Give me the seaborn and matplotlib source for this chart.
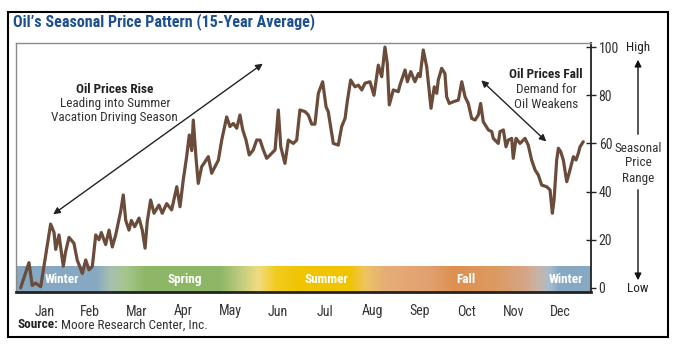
import numpy as np
import matplotlib
matplotlib.use("Agg")
import matplotlib.pyplot as plt
import seaborn as sns
import pandas as pd
from matplotlib import font_manager
from matplotlib.colors import LinearSegmentedColormap
from matplotlib.patches import Rectangle, FancyArrowPatch

# day of year and seasonal price index (0-100)
day = [0.1, 5.5, 7.6, 9.8, 13.1, 19.5, 21.7, 22.8, 24.9, 27.7, 29.2, 31.4, 34.6, 36.7,
       40.0, 42.2, 44.3, 46.5, 48.7, 50.8, 52.3, 55.1, 57.3, 59.4, 61.6, 64.8, 66.5,
       68.1, 70.2, 71.7, 73.9, 76.7, 78.8, 80.6, 82.0, 84.2, 86.4, 89.6, 91.7, 94.6,
       97.8, 101.1, 103.2, 105.3, 107.5, 109.2, 110.8, 111.8, 113.5, 115.0, 117.2,
       119.4, 121.5, 123.7, 125.8, 128.0, 130.2, 133.4, 135.5, 137.7, 139.9, 142.0,
       143.8, 145.9, 148.0, 150.6, 152.8, 155.0, 157.1, 159.3, 162.5, 164.7, 166.8,
       168.4, 171.1, 173.3, 176.5, 178.7, 180.8, 184.1, 186.2, 188.4, 190.5, 192.7,
       195.5, 197.7, 199.1, 202.4, 205.6, 207.8, 210.0, 211.4, 213.6, 216.4, 218.6,
       220.8, 222.9, 226.1, 228.7, 231.5, 233.7, 235.8, 237.3, 238.6, 241.2, 244.4,
       245.5, 248.8, 250.3, 252.5, 255.2, 257.4, 258.5, 260.6, 262.8, 264.9, 265.6,
       267.7, 269.3, 270.3, 272.5, 274.6, 275.7, 277.4, 280.0, 283.3, 285.5, 287.6,
       289.7, 291.9, 294.1, 296.2, 297.7, 299.4, 302.7, 304.9, 305.9, 309.1, 310.2,
       312.4, 314.1, 315.6, 317.8, 318.8, 320.6, 323.2, 326.4, 328.5, 330.7, 332.9,
       335.0, 337.2, 340.5, 342.6, 344.1, 345.2, 346.9, 348.0, 349.5, 351.2, 353.4,
       355.5, 357.7, 359.4, 360.9, 362.0, 364.1]
price = [0, 10.5, 1, 2, 0.5, 26.5, 23, 16, 22, 9, 15, 21, 18.5, 11.6,
         6, 11.6, 7.5, 9, 22, 20, 23, 18, 24, 17, 22, 31.7, 38.6,
         28, 24, 28, 25.4, 29, 24, 16.5, 27.5, 36.5, 31, 34.4, 31, 35,
         32.4, 42, 33.7, 44.8, 54.5, 63.5, 57, 69.7, 54.5, 43.4, 50.3,
         52.4, 54.5, 47.6, 50.3, 53, 61.4, 71, 67, 68.3, 66.3, 71.8,
         65.6, 61.4, 55.2, 57.3, 61.4, 61.4, 57.3, 53.8, 55.9, 57.3, 73.9,
         58.6, 51.7, 61.4, 60, 61.4, 73.9, 73.2, 71.8, 68, 68, 80.8,
         85.6, 75.2, 73.2, 60, 59.3, 67, 70.4, 77.3, 86.3, 83.5, 84.2,
         82.2, 85, 85.6, 80, 92.5, 87.7, 100, 93.2, 76, 82.2, 81.5,
         84.2, 90.5, 85.6, 89.8, 85.6, 89, 87.7, 98.8, 91.8, 78.7, 74.6,
         83.5, 80.8, 86.3, 91.2, 89, 79.4, 76.6, 77.3, 78, 85.6, 79.4,
         76.6, 70.4, 69.7, 71.8, 76.6, 69, 65.6, 64.9, 62.1, 60, 64.9,
         65.6, 58.6, 61.4, 62.1, 53.8, 62.1, 60, 62.1, 59.3, 53.1, 49,
         46.9, 42.7, 42, 40.7, 31, 36.5, 53.1, 58, 56.6, 53.1, 44.1,
         49, 54.5, 53.1, 55.9, 58.6, 60.7]

months = ["Jan", "Feb", "Mar", "Apr", "May", "Jun", "Jul", "Aug", "Sep", "Oct", "Nov", "Dec"]
month_mid = [15.5, 45, 75, 105.5, 136, 166.5, 197, 227.5, 258, 288.5, 319, 349.5]
y_ticks = [0, 20, 40, 60, 80, 100]

seasons = ["Winter", "Spring", "Summer", "Fall", "Winter"]
season_mid = [27, 106, 198, 288, 353]

# season band colour stops (day, colour)
band_days = [-3, 48, 58, 68, 81, 129, 142, 154, 165, 181, 213, 223, 236, 265, 281, 307, 326, 336, 343, 349, 370]
band_cols = ["#86a8c2", "#86a8c2", "#a8c0b0", "#a4c68c", "#8db666", "#8db666", "#c0cc80",
             "#f0dc80", "#f2cc20", "#f0c400", "#f0c400", "#eec460", "#e6ae78", "#e2a070",
             "#de9050", "#dc9a60", "#d6a484", "#c8b4a8", "#a6bece", "#88a9c2", "#86a8c2"]

df = pd.DataFrame({"day": day, "price": price})

sns.set_style("white")

# pick a condensed face if there is one, else Roboto at smaller sizes
names = {f.name for f in font_manager.fontManager.ttflist}
dv_cond = any(f.name == "DejaVu Sans" and f.stretch in ("condensed", "semi-condensed", 87.5, 75)
              for f in font_manager.fontManager.ttflist)
stretch = "normal"
if "Liberation Sans Narrow" in names:
    fam, k = "Liberation Sans Narrow", 1.0
elif "Roboto Condensed" in names:
    fam, k = "Roboto Condensed", 1.0
elif dv_cond:
    fam, k, stretch = "DejaVu Sans", 0.92, "condensed"
else:
    fam, k = "Roboto", 0.86
plt.rcParams["font.family"] = [fam, "DejaVu Sans"]
plt.rcParams["font.stretch"] = stretch

W, H = 675, 351
fig = plt.figure(figsize=(W / 100, H / 100), dpi=100)
fig.patch.set_facecolor("white")

ax = fig.add_axes([16 / W, 1 - 292 / H, (591 - 16) / W, (292 - 43) / H])
xlo, xhi = -2.9, 369.1
ylo, yhi = -1.7, 101.7

# season gradient band
pos = [(d - band_days[0]) / (band_days[-1] - band_days[0]) for d in band_days]
cmap = LinearSegmentedColormap.from_list("seasons", list(zip(pos, band_cols)))
grad = np.linspace(0, 1, 512).reshape(1, -1)
ax.imshow(grad, cmap=cmap, aspect="auto", extent=[band_days[0], band_days[-1], ylo, 8.7],
          zorder=1, interpolation="bilinear")
for s, m in zip(seasons, season_mid):
    ax.text(m, 3.5, s, color="white", fontsize=9.5 * k, fontweight="bold",
            ha="center", va="center", zorder=2)

sns.lineplot(data=df, x="day", y="price", ax=ax, color="#6b4c3b", linewidth=2.3,
             estimator=None, sort=False, zorder=3)

ax.set_xlim(xlo, xhi)
ax.set_ylim(ylo, yhi)
ax.set_xlabel("")
ax.set_ylabel("")
ax.set_xticks(month_mid)
ax.set_xticklabels(months)
ax.tick_params(axis="x", length=0, pad=9, labelsize=10 * k, labelcolor="#333333")
ax.yaxis.tick_right()
ax.set_yticks(y_ticks)
ax.tick_params(axis="y", direction="inout", length=7, width=1, color="#222222",
               labelsize=10 * k, labelcolor="#333333", pad=2)

for side in ["top", "left"]:
    ax.spines[side].set_color("#8a8a8a")
    ax.spines[side].set_linewidth(1)
ax.spines["bottom"].set_color("#222222")
ax.spines["bottom"].set_linewidth(2)
ax.spines["right"].set_color("#222222")
ax.spines["right"].set_linewidth(1.3)

fs = 9.5 * k

# annotations
ax.annotate("", xy=(158.2, 93.8), xytext=(19.7, 29.9),
            arrowprops=dict(arrowstyle="<|-|>", color="#222222", lw=1, mutation_scale=10))
ax.text(61, 82.5, "Oil Prices Rise", ha="center", va="center", fontsize=fs,
        fontweight="bold", color="#222222")
ax.text(61, 76.5, "Leading into Summer", ha="center", va="center", fontsize=fs, color="#333333")
ax.text(61, 70.7, "Vacation Driving Season", ha="center", va="center", fontsize=fs, color="#333333")

ax.annotate("", xy=(341.5, 60.0), xytext=(296.8, 87.0),
            arrowprops=dict(arrowstyle="<|-|>", color="#222222", lw=1, mutation_scale=10))
ax.text(340, 88.5, "Oil Prices Fall", ha="center", va="center", fontsize=fs,
        fontweight="bold", color="#222222")
ax.text(340, 82.3, "Demand for", ha="center", va="center", fontsize=fs, color="#333333")
ax.text(340, 76.1, "Oil Weakens", ha="center", va="center", fontsize=fs, color="#333333")

# right-hand price range legend
xr = 638 / W
fig.text(xr, 1 - 47 / H, "High", ha="center", va="center", fontsize=fs, color="#222222")
fig.text(xr, 1 - 289 / H, "Low", ha="center", va="center", fontsize=fs, color="#222222")
fig.text(xr, 1 - 148 / H, "Seasonal", ha="center", va="center", fontsize=fs, color="#333333")
fig.text(xr, 1 - 163 / H, "Price", ha="center", va="center", fontsize=fs, color="#333333")
fig.text(xr, 1 - 178 / H, "Range", ha="center", va="center", fontsize=fs, color="#333333")
fig.add_artist(FancyArrowPatch((xr, 1 - 137 / H), (xr, 1 - 57 / H),
               transform=fig.transFigure, arrowstyle="-|>", mutation_scale=10,
               color="#111111", lw=1))
fig.add_artist(FancyArrowPatch((xr, 1 - 187 / H), (xr, 1 - 283 / H),
               transform=fig.transFigure, arrowstyle="-|>", mutation_scale=10,
               color="#111111", lw=1))

# title and source
fig.text(13 / W, 1 - 22 / H, "Oil\u2019s Seasonal Price Pattern (15-Year Average)",
         ha="left", va="center", fontsize=11.5 * k, fontweight="bold", color="#1d4f91")
src = fig.text(17 / W, 1 - 325 / H, "Source:", ha="left", va="center", fontsize=fs,
               fontweight="bold", color="#222222")
rend = fig.canvas.get_renderer()
bb = src.get_window_extent(renderer=rend)
fig.text((bb.x1 + 3) / W, 1 - 325 / H, "Moore Research Center, Inc.", ha="left", va="center",
         fontsize=fs, color="#333333")

fig.add_artist(Rectangle((8 / W, 1 - 337 / H), 660 / W, 325 / H, transform=fig.transFigure,
                         fill=False, edgecolor="black", linewidth=1.5))

fig.savefig("out.png", dpi=100)
